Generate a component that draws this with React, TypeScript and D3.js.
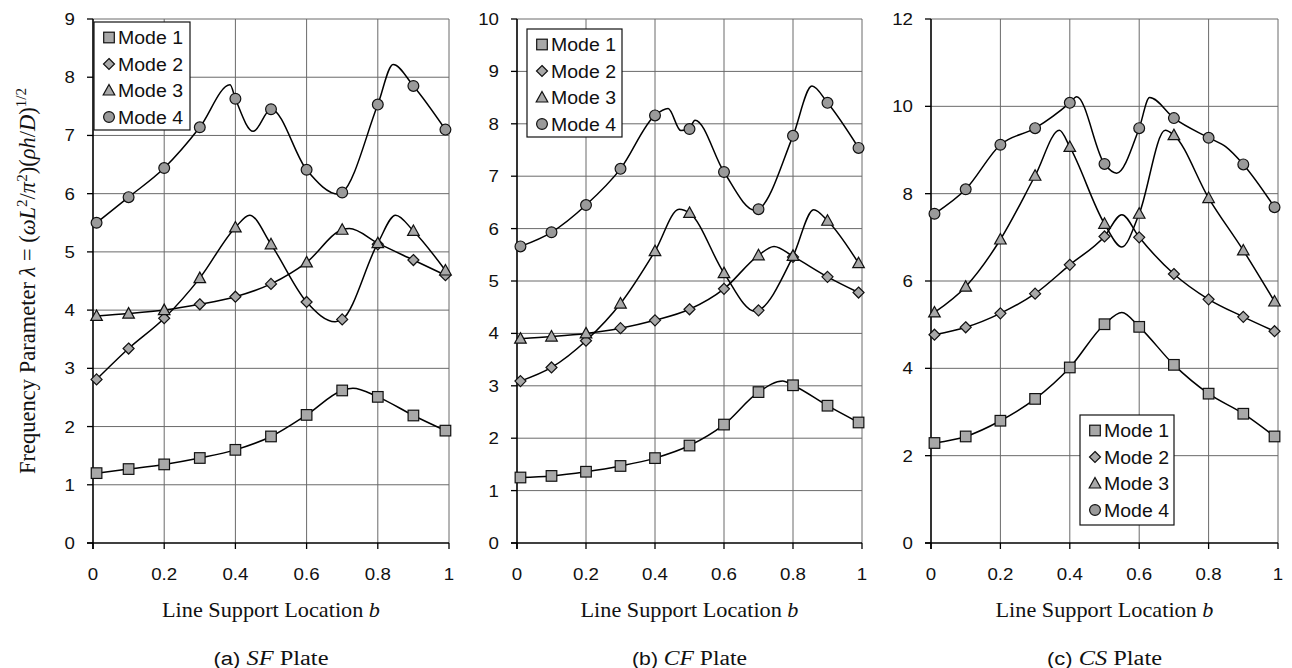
import React from "react";
import * as d3 from "d3";

type Pt = [number, number];

// ---------- data ----------
const bPoints = [0.01, 0.1, 0.2, 0.3, 0.4, 0.5, 0.6, 0.7, 0.8, 0.9, 0.99];
const xTicks = [0, 0.2, 0.4, 0.6, 0.8, 1];
const xTickLabels = ["0", "0.2", "0.4", "0.6", "0.8", "1"];
const modeNames = ["Mode 1", "Mode 2", "Mode 3", "Mode 4"];

// (a) SF plate - marker values per mode
const sfMode1 = [1.2, 1.27, 1.35, 1.46, 1.6, 1.83, 2.2, 2.62, 2.51, 2.19, 1.93];
const sfMode2 = [2.81, 3.34, 3.86, 4.1, 4.23, 4.45, 4.14, 3.84, 5.13, 4.86, 4.6];
const sfMode3 = [3.9, 3.94, 4.0, 4.55, 5.42, 5.13, 4.82, 5.38, 5.15, 5.36, 4.68];
const sfMode4 = [5.5, 5.94, 6.44, 7.14, 7.63, 7.45, 6.41, 6.02, 7.53, 7.85, 7.1];
// (a) SF plate - curve traces
const sfTrace1: Pt[] = [[0.01, 1.2], [0.1, 1.27], [0.2, 1.35], [0.3, 1.46], [0.4, 1.6], [0.5, 1.83], [0.6, 2.2], [0.7, 2.62], [0.73, 2.66], [0.8, 2.51], [0.9, 2.19], [0.99, 1.93]];
const sfTraceSteep: Pt[] = [[0.01, 2.81], [0.1, 3.34], [0.2, 3.86], [0.3, 4.55], [0.4, 5.42], [0.44, 5.63], [0.5, 5.13], [0.6, 4.14], [0.68, 3.8], [0.7, 3.84], [0.8, 5.15], [0.85, 5.63], [0.9, 5.36], [0.99, 4.68]];
const sfTraceFlat: Pt[] = [[0.01, 3.9], [0.1, 3.94], [0.2, 4.0], [0.3, 4.1], [0.4, 4.23], [0.5, 4.45], [0.6, 4.82], [0.7, 5.38], [0.72, 5.4], [0.8, 5.15], [0.9, 4.86], [0.99, 4.6]];
const sfTrace4: Pt[] = [[0.01, 5.5], [0.1, 5.94], [0.2, 6.44], [0.3, 7.14], [0.385, 7.87], [0.4, 7.63], [0.45, 7.07], [0.5, 7.45], [0.6, 6.41], [0.69, 5.99], [0.7, 6.02], [0.8, 7.53], [0.843, 8.22], [0.9, 7.85], [0.99, 7.1]];

// (b) CF plate
const cfMode1 = [1.25, 1.28, 1.36, 1.47, 1.62, 1.86, 2.26, 2.88, 3.01, 2.62, 2.3];
const cfMode2 = [3.09, 3.35, 3.86, 4.1, 4.25, 4.46, 4.85, 4.44, 5.46, 5.08, 4.78];
const cfMode3 = [3.9, 3.94, 4.0, 4.57, 5.57, 6.3, 5.15, 5.49, 5.48, 6.15, 5.34];
const cfMode4 = [5.66, 5.93, 6.45, 7.14, 8.16, 7.9, 7.08, 6.37, 7.77, 8.4, 7.54];
const cfTrace1: Pt[] = [[0.01, 1.25], [0.1, 1.28], [0.2, 1.36], [0.3, 1.47], [0.4, 1.62], [0.5, 1.86], [0.6, 2.26], [0.7, 2.88], [0.77, 3.09], [0.8, 3.01], [0.9, 2.62], [0.99, 2.3]];
const cfTraceSteep: Pt[] = [[0.01, 3.09], [0.1, 3.35], [0.2, 3.86], [0.3, 4.57], [0.4, 5.57], [0.47, 6.37], [0.5, 6.3], [0.6, 5.15], [0.69, 4.42], [0.7, 4.44], [0.8, 5.47], [0.86, 6.36], [0.9, 6.15], [0.99, 5.34]];
const cfTraceFlat: Pt[] = [[0.01, 3.9], [0.1, 3.94], [0.2, 4.0], [0.3, 4.1], [0.4, 4.25], [0.5, 4.46], [0.6, 4.85], [0.7, 5.49], [0.745, 5.66], [0.8, 5.47], [0.9, 5.08], [0.99, 4.78]];
const cfTrace4: Pt[] = [[0.01, 5.66], [0.1, 5.93], [0.2, 6.45], [0.3, 7.14], [0.4, 8.16], [0.438, 8.29], [0.475, 7.87], [0.5, 7.92], [0.516, 8.07], [0.6, 7.08], [0.69, 6.35], [0.7, 6.37], [0.8, 7.77], [0.855, 8.72], [0.9, 8.4], [0.99, 7.54]];

// (c) CS plate
const csMode1 = [2.29, 2.44, 2.8, 3.3, 4.02, 5.01, 4.95, 4.08, 3.42, 2.96, 2.44];
const csMode2 = [4.77, 4.94, 5.26, 5.71, 6.37, 7.02, 7.0, 6.16, 5.58, 5.18, 4.85];
const csMode3 = [5.28, 5.87, 6.95, 8.41, 9.07, 7.31, 7.54, 9.34, 7.9, 6.7, 5.53];
const csMode4 = [7.54, 8.1, 9.12, 9.5, 10.08, 8.68, 9.5, 9.73, 9.28, 8.67, 7.69];
const csTrace1: Pt[] = [[0.01, 2.29], [0.1, 2.44], [0.2, 2.8], [0.3, 3.3], [0.4, 4.02], [0.5, 5.01], [0.55, 5.28], [0.6, 4.95], [0.7, 4.08], [0.8, 3.42], [0.9, 2.96], [0.99, 2.44]];
const csTraceA: Pt[] = [[0.01, 4.77], [0.1, 4.94], [0.2, 5.26], [0.3, 5.71], [0.4, 6.37], [0.5, 7.02], [0.55, 7.52], [0.6, 7.0], [0.7, 6.16], [0.8, 5.58], [0.9, 5.18], [0.99, 4.85]];
const csTraceB: Pt[] = [[0.01, 5.28], [0.1, 5.87], [0.2, 6.95], [0.3, 8.41], [0.37, 9.45], [0.4, 9.07], [0.5, 7.31], [0.55, 6.78], [0.6, 7.54], [0.675, 9.45], [0.7, 9.34], [0.8, 7.9], [0.9, 6.7], [0.99, 5.53]];
const csTrace4: Pt[] = [[0.01, 7.54], [0.1, 8.1], [0.2, 9.12], [0.3, 9.5], [0.4, 10.08], [0.42, 10.22], [0.5, 8.68], [0.535, 8.47], [0.6, 9.5], [0.63, 10.2], [0.7, 9.73], [0.8, 9.28], [0.85, 9.07], [0.9, 8.67], [0.99, 7.69]];

// ---------- layout ----------
const W = 1292;
const H = 668;
const TOP = 19;
const BOTTOM = 543;
const SANS = "'Liberation Sans', Arial, Helvetica, sans-serif";
const SERIF = "'Liberation Serif', 'Times New Roman', serif";
const SX = 1.1; // horizontal stretch of the scanned sans text

type Kind = 0 | 1 | 2 | 3;

function Marker({ kind, x, y }: { kind: Kind; x: number; y: number }) {
  const common = { fill: "#a8a8a8", stroke: "#111", strokeWidth: 1.2 };
  if (kind === 0) return <rect x={x - 5.3} y={y - 5.3} width={10.6} height={10.6} {...common} />;
  if (kind === 1)
    return <path d={`M${x},${y - 5.5}L${x + 5.5},${y}L${x},${y + 5.5}L${x - 5.5},${y}Z`} {...common} />;
  if (kind === 2)
    return <path d={`M${x},${y - 6}L${x + 5.8},${y + 4.5}L${x - 5.8},${y + 4.5}Z`} {...common} />;
  return <circle cx={x} cy={y} r={5.4} {...common} fill="#9a9a9a" />;
}

function SText({ x, y, anchor, size, children }: { x: number; y: number; anchor?: string; size: number; children: React.ReactNode }) {
  return (
    <text
      transform={`translate(${x},${y}) scale(${SX},1)`}
      textAnchor={anchor || "start"}
      fontFamily={SANS}
      fontSize={size}
      fill="#111"
    >
      {children}
    </text>
  );
}

interface PanelProps {
  x0: number;
  x1: number;
  yMax: number;
  yStep: number;
  modes: number[][];
  traces: Pt[][];
  legend: { x: number; y: number; w: number; h: number };
  capLetter: string;
  capPlate: string;
}

function Panel({ x0, x1, yMax, yStep, modes, traces, legend, capLetter, capPlate }: PanelProps) {
  const xs = d3.scaleLinear().domain([0, 1]).range([x0, x1]);
  const ys = d3.scaleLinear().domain([0, yMax]).range([BOTTOM, TOP]);
  const line = d3
    .line<Pt>()
    .x((d) => xs(d[0]))
    .y((d) => ys(d[1]))
    .curve(d3.curveMonotoneX);
  const yTicks = d3.range(0, yMax + 1e-9, yStep);
  const cx = (x0 + x1) / 2;
  return (
    <g>
      {/* grid */}
      {yTicks.filter((t) => t > 0).map((t) => (
        <line key={"gy" + t} x1={x0} x2={x1} y1={ys(t)} y2={ys(t)} stroke="#6a6a6a" strokeWidth={1} />
      ))}
      {xTicks.filter((t) => t > 0).map((t) => (
        <line key={"gx" + t} x1={xs(t)} x2={xs(t)} y1={TOP} y2={BOTTOM} stroke="#6a6a6a" strokeWidth={1} />
      ))}
      {/* axes */}
      <line x1={x0} x2={x0} y1={TOP} y2={BOTTOM + 6} stroke="#000" strokeWidth={1.6} />
      <line x1={x0 - 6} x2={x1} y1={BOTTOM} y2={BOTTOM} stroke="#000" strokeWidth={1.6} />
      {yTicks.map((t) => (
        <g key={"yt" + t}>
          <line x1={x0 - 6} x2={x0} y1={ys(t)} y2={ys(t)} stroke="#000" strokeWidth={1.3} />
          <SText x={x0 - 18} y={ys(t) + 6} anchor="end" size={17}>
            {t}
          </SText>
        </g>
      ))}
      {xTicks.map((t, i) => (
        <g key={"xt" + t}>
          <line x1={xs(t)} x2={xs(t)} y1={BOTTOM} y2={BOTTOM + 6} stroke="#000" strokeWidth={1.3} />
          <SText x={xs(t)} y={BOTTOM + 37} anchor="middle" size={17}>
            {xTickLabels[i]}
          </SText>
        </g>
      ))}
      {/* curves */}
      {traces.map((tr, i) => (
        <path key={"tr" + i} d={line(tr) || ""} fill="none" stroke="#000" strokeWidth={1.5} />
      ))}
      {/* markers */}
      {modes.map((vals, m) =>
        vals.map((v, i) => <Marker key={`m${m}-${i}`} kind={m as Kind} x={xs(bPoints[i])} y={ys(v)} />)
      )}
      {/* legend */}
      <rect x={legend.x} y={legend.y} width={legend.w} height={legend.h} fill="#fff" stroke="#111" strokeWidth={1.2} />
      {modeNames.map((name, i) => {
        const ry = legend.y + 15.5 + i * 26.5;
        return (
          <g key={name}>
            <Marker kind={i as Kind} x={legend.x + 15} y={ry} />
            <text
              x={legend.x + 24}
              y={ry + 6.5}
              fontFamily={SANS}
              fontSize={18}
              fill="#111"
              textLength={65}
              lengthAdjust="spacingAndGlyphs"
            >
              {name}
            </text>
          </g>
        );
      })}
      {/* axis title */}
      <text
        x={cx}
        y={617}
        textAnchor="middle"
        fontFamily={SERIF}
        fontSize={21}
        fill="#111"
        textLength={218}
        lengthAdjust="spacingAndGlyphs"
      >
        Line Support Location <tspan fontStyle="italic">b</tspan>
      </text>
      {/* caption */}
      <text
        x={cx}
        y={665}
        textAnchor="middle"
        fontFamily={SERIF}
        fontSize={20}
        fill="#111"
        textLength={115}
        lengthAdjust="spacingAndGlyphs"
      >
        <tspan fontFamily={SANS} fontSize={18}>({capLetter})</tspan>
        <tspan fontStyle="italic"> {capPlate}</tspan> Plate
      </text>
    </g>
  );
}

export default function App() {
  return (
    <svg
      width={W}
      height={H}
      viewBox={`0 0 ${W} ${H}`}
      style={{ position: "absolute", left: 0, top: 0, background: "#fff" }}
    >
      <rect x={0} y={0} width={W} height={H} fill="#fff" />
      <text
        transform={`translate(35, ${(TOP + BOTTOM) / 2}) rotate(-90)`}
        textAnchor="middle"
        fontFamily={SERIF}
        fontSize={22.5}
        fill="#111"
      >
        Frequency Parameter <tspan fontStyle="italic">λ</tspan> = (<tspan fontStyle="italic">ωL</tspan>
        <tspan dy={-8} fontSize={15}>2</tspan>
        <tspan dy={8}>/</tspan>
        <tspan fontStyle="italic">π</tspan>
        <tspan dy={-8} fontSize={15}>2</tspan>
        <tspan dy={8}>)(</tspan>
        <tspan fontStyle="italic">ρh</tspan>/<tspan fontStyle="italic">D</tspan>)
        <tspan dy={-9} fontSize={15}>1/2</tspan>
      </text>
      <Panel
        x0={93}
        x1={449}
        yMax={9}
        yStep={1}
        modes={[sfMode1, sfMode2, sfMode3, sfMode4]}
        traces={[sfTrace1, sfTraceSteep, sfTraceFlat, sfTrace4]}
        legend={{ x: 94, y: 22, w: 96, h: 108 }}
        capLetter="a"
        capPlate="SF"
      />
      <Panel
        x0={517}
        x1={862}
        yMax={10}
        yStep={1}
        modes={[cfMode1, cfMode2, cfMode3, cfMode4]}
        traces={[cfTrace1, cfTraceSteep, cfTraceFlat, cfTrace4]}
        legend={{ x: 527, y: 29, w: 95, h: 108 }}
        capLetter="b"
        capPlate="CF"
      />
      <Panel
        x0={931}
        x1={1278}
        yMax={12}
        yStep={2}
        modes={[csMode1, csMode2, csMode3, csMode4]}
        traces={[csTrace1, csTraceA, csTraceB, csTrace4]}
        legend={{ x: 1080, y: 415, w: 94, h: 110 }}
        capLetter="c"
        capPlate="CS"
      />
    </svg>
  );
}
